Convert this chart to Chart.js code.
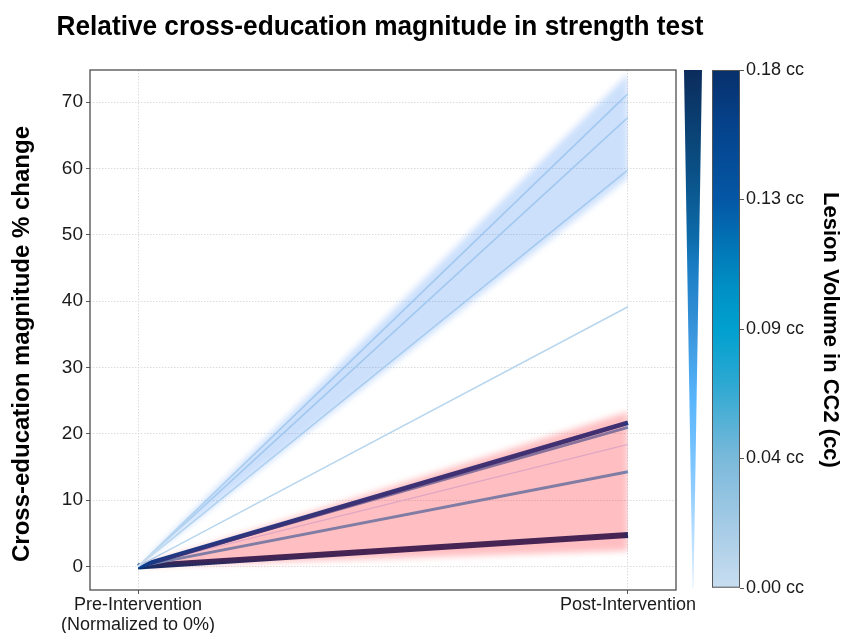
<!DOCTYPE html>
<html>
<head>
<meta charset="utf-8">
<script src="https://cdn.jsdelivr.net/npm/chart.js@4/dist/chart.umd.min.js"></script>
<style>
  html, body { margin: 0; padding: 0; background: #fff; }
  #chart { display: block; }
</style>
</head>
<body>
<canvas id="chart" width="845" height="633"></canvas>
<script>
// Time points (x positions) and their axis labels
const timepoints = [0, 1];
const timeLabels = [['Pre-Intervention', '(Normalized to 0%)'], 'Post-Intervention'];

// Individual trajectories: % change, pre is normalised to 0
const preChange  = [0, 0, 0, 0, 0, 0, 0, 0, 0];
const postChange = [71.3, 67.7, 59.8, 39.15, 21.66, 20.96, 18.4, 14.27, 4.72];

// Group bands (lower / upper bound at pre and post)
const responderBandLow     = [0, 58.6];
const responderBandHigh    = [0, 74.3];
const nonResponderBandLow  = [0, 2.35];
const nonResponderBandHigh = [0, 23.3];

// Axis ticks and titles
const chartTitle = 'Relative cross-education magnitude in strength test';
const yTicks = [0, 10, 20, 30, 40, 50, 60, 70];
const yTitle = 'Cross-education magnitude % change';
const volumeTicks = [0, 0.045, 0.09, 0.135, 0.18];
const volumeTickLabels = ['0.00 cc', '0.04 cc', '0.09 cc', '0.13 cc', '0.18 cc'];

// Line styling per participant (colour and width follow lesion volume)
const lineColors = ['#cce2f0', '#cce2f0', '#cce2f0', '#b8d6ee', '#004195', '#5f98cc', '#d6deff', '#56a6d6', '#08306b'];
const lineWidths = [1.7, 1.7, 1.7, 1.5, 4.7, 2.7, 1.3, 3, 6];

const FONT = "'Liberation Sans', Arial, sans-serif";
Chart.defaults.font.family = FONT;
Chart.defaults.color = '#1a1a1a';

const toPoints = vals => timepoints.map((x, i) => ({ x, y: vals[i] }));

const lineSets = postChange.map((v, i) => ({
  data: toPoints([preChange[i], v]),
  borderColor: lineColors[i],
  borderWidth: lineWidths[i],
  borderCapStyle: 'butt',
  pointRadius: 0,
  fill: false,
  order: 1
}));

const band = (high, low, color) => [
  { data: toPoints(high), fill: '+1', backgroundColor: color, borderColor: 'rgba(0,0,0,0)', borderWidth: 0, pointRadius: 0, order: 0 },
  { data: toPoints(low), fill: false, backgroundColor: 'rgba(0,0,0,0)', borderColor: 'rgba(0,0,0,0)', borderWidth: 0, pointRadius: 0, order: 0 }
];

const bandSets = [
  ...band(responderBandHigh, responderBandLow, 'rgba(0,100,240,0.2)'),
  ...band(nonResponderBandHigh, nonResponderBandLow, 'rgba(255,0,10,0.25)')
];

// Soft edges for the filled bands: the filler paints a band right before its
// dataset's own hook, so the blur is switched on between datasets and off again
// before any line is stroked.
const softBands = {
  id: 'softBands',
  beforeDatasetsDraw(chart) { chart.ctx.filter = 'blur(3px)'; },
  beforeDatasetDraw(chart) { chart.ctx.filter = 'none'; },
  afterDatasetDraw(chart) { chart.ctx.filter = 'blur(3px)'; },
  afterDatasetsDraw(chart) { chart.ctx.filter = 'none'; }
};

// Panel frame around the plotting area
const panelFrame = {
  id: 'panelFrame',
  afterDatasetsDraw(chart) {
    const { ctx, chartArea: a } = chart;
    ctx.save();
    ctx.strokeStyle = '#4d4d4d';
    ctx.lineWidth = 1.3;
    ctx.strokeRect(a.left, a.top, a.right - a.left, a.bottom - a.top);
    ctx.restore();
  }
};

// Chart title and left axis title
const titles = {
  id: 'titles',
  afterDraw(chart) {
    const { ctx, chartArea: a } = chart;
    ctx.save();
    ctx.fillStyle = '#000';
    ctx.textAlign = 'center';
    ctx.textBaseline = 'middle';

    ctx.font = 'bold 28px ' + FONT;
    ctx.fillText(chartTitle, 380, 27, 647);

    ctx.translate(22, (a.top + a.bottom) / 2 + 14);
    ctx.rotate(-Math.PI / 2);
    ctx.font = 'bold 24px ' + FONT;
    ctx.fillText(yTitle, 0, 0);
    ctx.restore();
  }
};

// Colour bar and size wedge for lesion volume, placed on the y2 scale
const volumeLegend = {
  id: 'volumeLegend',
  afterDraw(chart) {
    const s = chart.scales.y2;
    const ctx = chart.ctx;
    const yTop = s.getPixelForValue(volumeTicks[volumeTicks.length - 1]);
    const yBot = s.getPixelForValue(volumeTicks[0]);
    ctx.save();

    // size wedge
    const wl = s.left + 8, wr = s.left + 26, wc = s.left + 17;
    const wg = ctx.createLinearGradient(0, yTop, 0, yBot);
    [[0, '#0b2c5c'], [0.19, '#0a4f84'], [0.32, '#0c6aa8'], [0.38, '#1a7dc4'], [0.51, '#3a95dc'],
     [0.58, '#4aa8ef'], [0.64, '#5ab6fb'], [0.77, '#80c6ff'], [1, '#e0f0ff']].forEach(([o, c]) => wg.addColorStop(o, c));
    ctx.fillStyle = wg;
    ctx.beginPath();
    ctx.moveTo(wl, yTop);
    ctx.lineTo(wr, yTop);
    ctx.lineTo(wc + 0.5, yBot);
    ctx.lineTo(wc - 0.5, yBot);
    ctx.closePath();
    ctx.fill();

    // colour bar
    const bl = s.left + 36, br = s.left + 64;
    const bg = ctx.createLinearGradient(0, yTop, 0, yBot);
    [[0, '#08306b'], [0.1, '#05418a'], [0.25, '#0457a5'], [0.42, '#0090c5'], [0.5, '#00a0cf'],
     [0.6, '#2aa8d2'], [0.75, '#7ab9da'], [0.88, '#a5cbe6'], [1, '#c8ddf0']].forEach(([o, c]) => bg.addColorStop(o, c));
    ctx.fillStyle = bg;
    ctx.fillRect(bl, yTop, br - bl, yBot - yTop);
    ctx.strokeStyle = '#555';
    ctx.lineWidth = 1;
    ctx.strokeRect(bl + 0.5, yTop + 0.5, br - bl - 1, yBot - yTop - 1);

    // tick marks
    ctx.beginPath();
    volumeTicks.forEach(v => {
      const y = Math.round(s.getPixelForValue(v)) + 0.5;
      ctx.moveTo(br, y);
      ctx.lineTo(br + 4, y);
    });
    ctx.stroke();
    ctx.restore();
  }
};

// vertical scales: keep tick-label overhang from pushing the panel inward
const noOverhang = s => { s.paddingTop = 0; s.paddingBottom = 0; };

new Chart(document.getElementById('chart'), {
  type: 'line',
  data: { datasets: [...lineSets, ...bandSets] },
  plugins: [softBands, panelFrame, titles, volumeLegend],
  options: {
    responsive: false,
    animation: false,
    devicePixelRatio: 1,
    layout: { padding: { top: 70 } },
    plugins: {
      legend: { display: false },
      tooltip: { enabled: false },
      title: { display: false }
    },
    scales: {
      x: {
        type: 'linear',
        min: -0.098,
        max: 1.098,
        afterBuildTicks: s => { s.ticks = timepoints.map(v => ({ value: v })); },
        afterFit: s => { s.height = 43; },
        ticks: {
          callback: (v, i) => timeLabels[i],
          font: { size: 18, lineHeight: 1.1 },
          color: '#1a1a1a',
          padding: 1,
          maxRotation: 0,
          autoSkip: false
        },
        grid: { color: '#dcdcdc', tickColor: '#555', tickLength: 4, tickWidth: 1 },
        border: { display: false, dash: [1.5, 1.5] }
      },
      y: {
        position: 'left',
        min: -3.56,
        max: 74.85,
        afterBuildTicks: s => { s.ticks = yTicks.map(v => ({ value: v })); },
        afterFit: s => { s.width = 90; noOverhang(s); },
        ticks: { font: { size: 19 }, color: '#1a1a1a', padding: 3 },
        grid: { color: '#dcdcdc', tickColor: '#555', tickLength: 4, tickWidth: 1 },
        border: { display: false, dash: [1.5, 1.5] }
      },
      y2: {
        position: 'right',
        min: -0.0008,
        max: 0.18,
        afterBuildTicks: s => { s.ticks = volumeTicks.map(v => ({ value: v })); },
        afterFit: s => { s.width = 169; noOverhang(s); },
        ticks: {
          callback: (v, i) => volumeTickLabels[i],
          font: { size: 18 },
          color: '#1a1a1a',
          padding: 70
        },
        grid: { display: false, drawTicks: false, drawOnChartArea: false },
        border: { display: false },
        title: {
          display: true,
          text: 'Lesion Volume in CC2 (cc)',
          color: '#000',
          font: { size: 22, weight: 'bold' },
          padding: { top: 2, bottom: 0 }
        }
      }
    }
  }
});
</script>
</body>
</html>
